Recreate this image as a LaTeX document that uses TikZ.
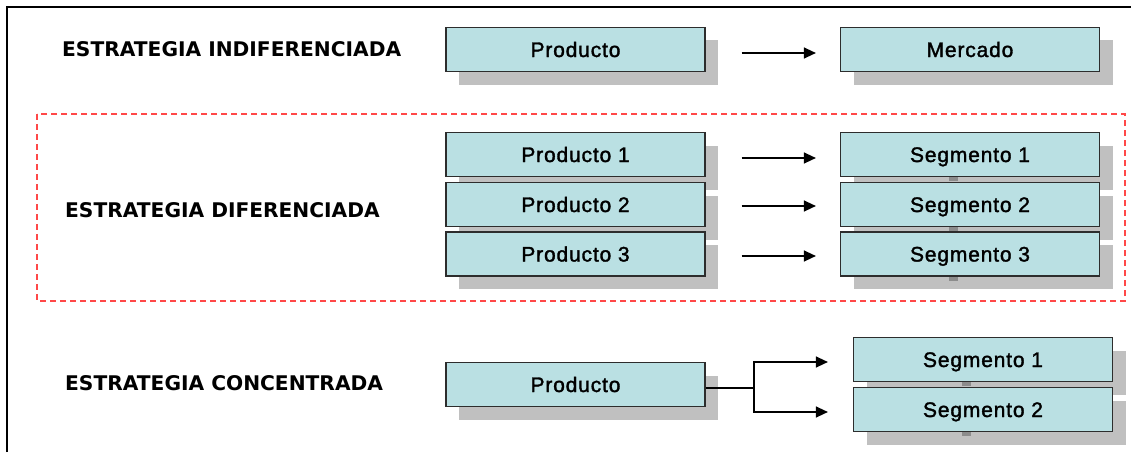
\documentclass[tikz,border=0pt]{standalone}
\usepackage{fontspec}
\usetikzlibrary{arrows.meta,shadows}
\newfontfamily\boxfont[LetterSpace=4,FakeBold=1.6]{Liberation Sans}
\newfontfamily\titlefont{DejaVu Sans}
\definecolor{boxfill}{RGB}{186,224,227}
\definecolor{shadowgray}{RGB}{192,192,192}
\definecolor{boxline}{RGB}{45,45,45}
\definecolor{dashred}{RGB}{255,72,72}
\definecolor{nubgray}{RGB}{140,140,140}
\tikzset{
  box/.style={draw=boxline, fill=boxfill, line width=1.2pt, rectangle,
    minimum width=259pt, minimum height=44pt, inner sep=0pt,
    text height=15pt, text depth=0pt,
    font=\boxfont\fontsize{21pt}{24pt}\selectfont,
    drop shadow={shadow xshift=13pt, shadow yshift=-13pt, fill=shadowgray, opacity=1}},
  title/.style={anchor=west, inner sep=0pt, font=\titlefont\bfseries\fontsize{20.2pt}{24pt}\selectfont},
  arr/.style={line width=1.3pt, -{Triangle[length=12pt,width=11pt]}},
  link/.style={line width=1.3pt},
  dashbox/.style={draw=dashred, line width=1.5pt, dash pattern=on 6pt off 4pt},
  frame/.style={line width=2pt},
  nub/.style={fill=nubgray}
}
\begin{document}
\begin{tikzpicture}[x=1pt,y=-1pt]
\useasboundingbox (0,0) rectangle (1131,452);
\fill[white] (0,0) rectangle (1131,452);
\draw[frame] (7,452) -- (7,7) -- (1131,7);

% dashed group
\draw[dashbox] (37,114) rectangle (1125,301);

% titles
\node[title] (t1) at (62,49) {ESTRATEGIA INDIFERENCIADA};
\node[title] (t2) at (65,210) {ESTRATEGIA DIFERENCIADA};
\node[title] (t3) at (65,383) {ESTRATEGIA CONCENTRADA};

% row 1
\node[box] (p0) at (575.5,49.5) {Producto};
\node[box] (m0) at (970,49.5) {Mercado};
\draw[arr] ([xshift=36pt,yshift=-3.5pt]p0.east) -- ([xshift=-24pt,yshift=-3.5pt]m0.west);

% row 2
\node[box] (p1) at (575.5,154.5) {Producto 1};
\node[box] (p2) at (575.5,204.5) {Producto 2};
\node[box] (p3) at (575.5,254) {Producto 3};
\node[box] (s1) at (970,154.5) {Segmento 1};
\node[box] (s2) at (970,204.5) {Segmento 2};
\node[box] (s3) at (970,254) {Segmento 3};
\foreach \n in {s1,s2,s3}{
  \fill[nub] ([xshift=-21pt]\n.south) rectangle ++(9,4);
}
\draw[arr] ([xshift=36pt,yshift=-3.5pt]p1.east) -- ([xshift=-24pt,yshift=-3.5pt]s1.west);
\draw[arr] ([xshift=36pt,yshift=-1.5pt]p2.east) -- ([xshift=-24pt,yshift=-1.5pt]s2.west);
\draw[arr] ([xshift=36pt,yshift=-2pt]p3.east) -- ([xshift=-24pt,yshift=-2pt]s3.west);

% row 3
\node[box] (pc) at (575.5,384.5) {Producto};
\node[box] (c1) at (983,359.5) {Segmento 1};
\node[box] (c2) at (983,409.5) {Segmento 2};
\foreach \n in {c1,c2}{
  \fill[nub] ([xshift=-21pt]\n.south) rectangle ++(9,4);
}
\coordinate (fork) at (754,388);
\draw[link] ([yshift=-3.5pt]pc.east) -- (fork);
\draw[arr] (fork) |- ([xshift=-25pt,yshift=-2.5pt]c1.west);
\draw[arr] (fork) |- ([xshift=-25pt,yshift=-2.5pt]c2.west);
\end{tikzpicture}
\end{document}
